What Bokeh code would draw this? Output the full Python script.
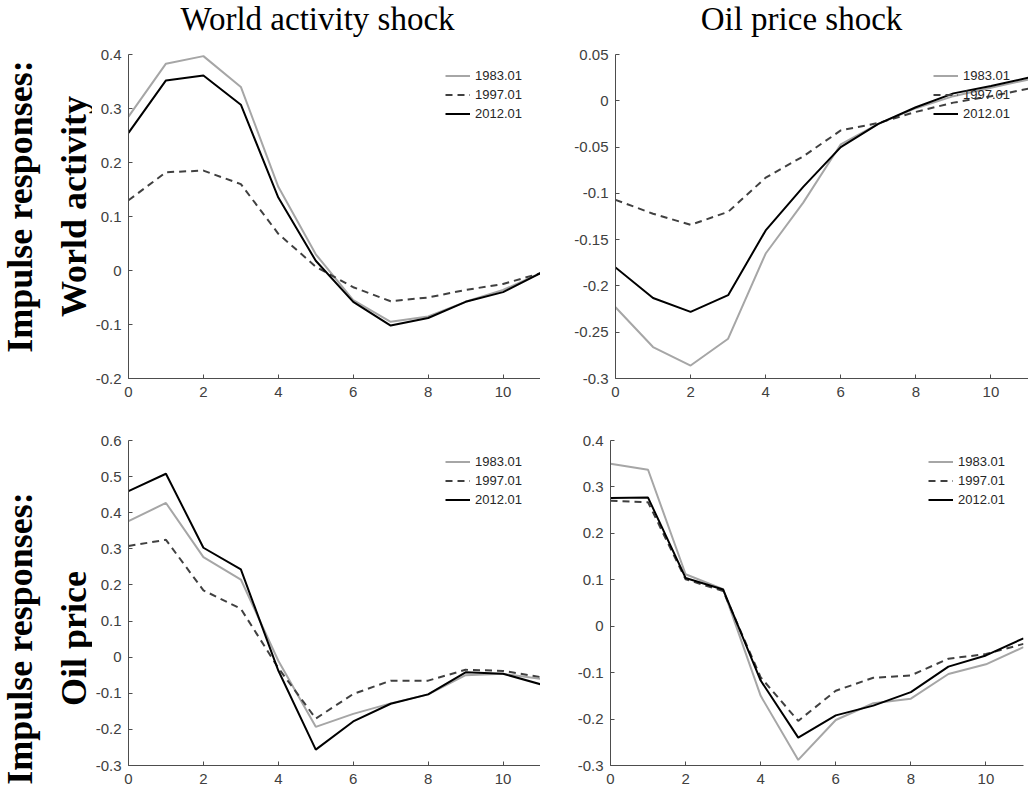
import math

from bokeh.plotting import figure
from bokeh.layouts import column, row
from bokeh.models import Range1d, FixedTicker, NumeralTickFormatter, Label
from bokeh.embed import file_html
from bokeh.resources import INLINE

# Impulse-response horizons (months)
horizon = [0, 1, 2, 3, 4, 5, 6, 7, 8, 9, 10, 11]
vintages = ["1983.01", "1997.01", "2012.01"]

# World activity shock -> world activity
wa_wa_1983 = [0.285, 0.383, 0.397, 0.340, 0.155, 0.030, -0.055, -0.095, -0.085, -0.058, -0.036, -0.005]
wa_wa_1997 = [0.130, 0.182, 0.185, 0.160, 0.068, 0.007, -0.031, -0.057, -0.050, -0.036, -0.025, -0.005]
wa_wa_2012 = [0.255, 0.352, 0.361, 0.307, 0.135, 0.018, -0.058, -0.102, -0.088, -0.058, -0.040, -0.005]

# Oil price shock -> world activity
op_wa_1983 = [-0.223, -0.266, -0.286, -0.257, -0.165, -0.110, -0.047, -0.025, -0.008, 0.005, 0.014, 0.023]
op_wa_1997 = [-0.107, -0.122, -0.134, -0.120, -0.083, -0.060, -0.032, -0.024, -0.012, -0.002, 0.005, 0.013]
op_wa_2012 = [-0.180, -0.213, -0.228, -0.210, -0.140, -0.093, -0.050, -0.025, -0.007, 0.008, 0.016, 0.025]

# World activity shock -> oil price
wa_op_1983 = [0.377, 0.427, 0.277, 0.215, -0.010, -0.193, -0.157, -0.128, -0.103, -0.050, -0.046, -0.060]
wa_op_1997 = [0.308, 0.325, 0.185, 0.134, -0.030, -0.170, -0.102, -0.065, -0.065, -0.035, -0.038, -0.055]
wa_op_2012 = [0.460, 0.508, 0.303, 0.243, -0.037, -0.256, -0.178, -0.129, -0.103, -0.042, -0.046, -0.075]

# Oil price shock -> oil price
op_op_1983 = [0.350, 0.337, 0.112, 0.080, -0.150, -0.288, -0.202, -0.166, -0.156, -0.103, -0.082, -0.045]
op_op_1997 = [0.270, 0.267, 0.101, 0.076, -0.110, -0.204, -0.139, -0.111, -0.106, -0.070, -0.060, -0.038]
op_op_2012 = [0.276, 0.277, 0.104, 0.079, -0.117, -0.240, -0.192, -0.171, -0.142, -0.087, -0.063, -0.026]

# Axis ticks
x_ticks = [0, 2, 4, 6, 8, 10]
yt_wa_wa = [-0.2, -0.1, 0, 0.1, 0.2, 0.3, 0.4]
yt_op_wa = [-0.3, -0.25, -0.2, -0.15, -0.1, -0.05, 0, 0.05]
yt_wa_op = [-0.3, -0.2, -0.1, 0, 0.1, 0.2, 0.3, 0.4, 0.5, 0.6]
yt_op_op = [-0.3, -0.2, -0.1, 0, 0.1, 0.2, 0.3, 0.4]

col_titles = ["World activity shock", "Oil price shock"]
row_titles = [("Impulse responses:", "World activity"), ("Impulse responses:", "Oil price")]

LINE_STYLES = [
    dict(line_color="#a6a6a6", line_width=2, line_dash="solid"),
    dict(line_color="#404040", line_width=2, line_dash="7 5"),
    dict(line_color="#000000", line_width=2, line_dash="solid"),
]
AXIS_COLOR = "#4d4d4d"
TICK_FONT = "Liberation Sans"
SERIF = "Liberation Serif"


def panel(width, height, left, right, top, bottom, ylim, yticks, series):
    p = figure(width=width, height=height, output_backend="svg", toolbar_location=None,
               x_range=Range1d(0, 11), y_range=Range1d(*ylim),
               min_border_left=left, min_border_right=right,
               min_border_top=top, min_border_bottom=bottom)
    p.outline_line_color = None
    p.xgrid.visible = False
    p.ygrid.visible = False
    p.background_fill_color = "white"
    p.border_fill_color = "white"
    for ys, name, style in zip(series, vintages, LINE_STYLES):
        p.line(horizon, ys, legend_label=name, **style)

    for ax, ticks in ((p.xaxis[0], x_ticks), (p.yaxis[0], yticks)):
        ax.ticker = FixedTicker(ticks=ticks)
        ax.minor_tick_line_color = None
        ax.major_tick_in = 4
        ax.major_tick_out = 0
        ax.axis_line_color = AXIS_COLOR
        ax.major_tick_line_color = AXIS_COLOR
        ax.major_label_text_color = "#404040"
        ax.major_label_text_font = TICK_FONT
        ax.major_label_text_font_size = "15px"
    p.yaxis[0].formatter = NumeralTickFormatter(format="0.[00]")
    p.yaxis[0].major_label_standoff = 7
    p.xaxis[0].major_label_standoff = 8

    lg = p.legend[0]
    lg.location = "top_right"
    lg.border_line_color = None
    lg.background_fill_alpha = 0
    lg.margin = 12
    lg.padding = 0
    lg.spacing = 0
    lg.glyph_width = 25
    lg.glyph_height = 19
    lg.label_height = 19
    lg.label_width = 53
    lg.label_standoff = 5
    lg.label_text_font = TICK_FONT
    lg.label_text_font_size = "13px"
    lg.label_text_color = "#262626"
    return p


def text_strip(width, height):
    f = figure(width=width, height=height, output_backend="svg", toolbar_location=None,
               x_range=Range1d(0, width), y_range=Range1d(height, 0),
               x_axis_type=None, y_axis_type=None,
               min_border_left=0, min_border_right=0, min_border_top=0, min_border_bottom=0)
    f.outline_line_color = None
    f.xgrid.visible = False
    f.ygrid.visible = False
    return f


# column headings
head = text_strip(1028, 40)
for title, cx in zip(col_titles, [317, 801]):
    head.add_layout(Label(x=cx, y=18, text=title, text_font=SERIF, text_font_size="33px",
                          text_color="black", text_align="center", text_baseline="alphabetic"))

# row headings, one strip running down the left of both rows
side = text_strip(92, 752)
for lines, cy in zip(row_titles, [166, 598]):
    for txt, bx in zip(lines, [19, 73]):
        side.add_layout(Label(x=bx, y=cy, text=txt, angle=math.pi / 2, text_font=SERIF,
                              text_font_size="36px", text_font_style="bold", text_color="black",
                              text_align="center", text_baseline="alphabetic"))

p11 = panel(448, 370, 35, 0, 14, 32, (-0.2, 0.4), yt_wa_wa, [wa_wa_1983, wa_wa_1997, wa_wa_2012])
p12 = panel(488, 370, 75, 0, 14, 32, (-0.3, 0.05), yt_op_wa, [op_wa_1983, op_wa_1997, op_wa_2012])
p21 = panel(448, 382, 35, 0, 30, 27, (-0.3, 0.6), yt_wa_op, [wa_op_1983, wa_op_1997, wa_op_2012])
p22 = panel(488, 382, 70, 5, 30, 27, (-0.3, 0.4), yt_op_op, [op_op_1983, op_op_1997, op_op_2012])

layout = column(head, row(side, column(row(p11, p12), row(p21, p22))))

with open("out.html", "w") as fh:
    fh.write(file_html(layout, INLINE))
